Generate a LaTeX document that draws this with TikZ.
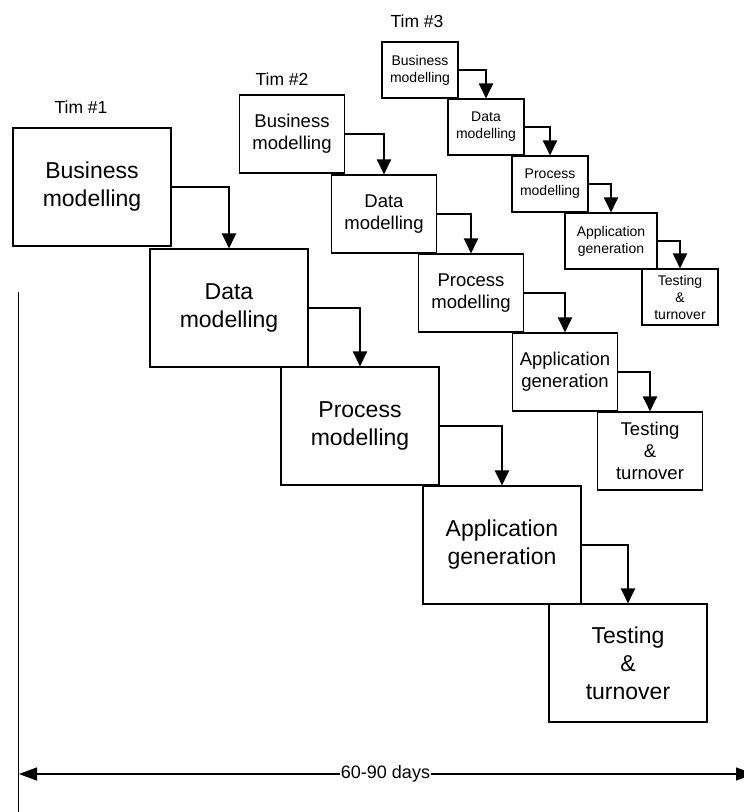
\documentclass[tikz,border=0pt]{standalone}
\usepackage{fontspec}
\setmainfont{Liberation Sans}
\usetikzlibrary{arrows.meta}
\begin{document}
\begin{tikzpicture}[x=1pt,y=-1pt,
  stage/.style={draw=black, line width=1.1pt, align=center, inner sep=0pt},
  big/.style={stage, minimum width=158pt, minimum height=118pt, font=\fontsize{23}{28}\selectfont},
  mid/.style={stage, minimum width=105pt, minimum height=78pt, font=\fontsize{18.5}{22}\selectfont},
  small/.style={stage, minimum width=76pt, minimum height=56pt, font=\fontsize{14}{17}\selectfont},
  flow/.style={line width=2pt, -{Triangle[length=15pt,width=14pt]}},
  team/.style={font=\fontsize{17.5}{21}\selectfont, inner sep=0pt},
  span/.style={line width=1.3pt, -{Triangle[length=18pt,width=13pt]}},
]
\useasboundingbox (0,0) rectangle (744,812);

% Team 1
\node[big] (B1)  at (92,187)  {Business\\modelling};
\node[big] (D1)  at (229,308) {Data\\modelling};
\node[big] (P1)  at (360,426) {Process\\modelling};
\node[big] (A1)  at (502,545) {Application\\generation};
\node[big] (Te1) at (628,663) {Testing\\\&\\turnover};

% Team 2
\node[mid] (B2)  at (292,134) {Business\\modelling};
\node[mid] (D2)  at (384,214) {Data\\modelling};
\node[mid] (P2)  at (471,293) {Process\\modelling};
\node[mid] (A2)  at (565,372) {Application\\generation};
\node[mid] (Te2) at (650,451) {Testing\\\&\\turnover};

% Team 3
\node[small] (B3)  at (420,70)  {Business\\modelling};
\node[small] (D3)  at (486,127) {Data\\modelling};
\node[small] (P3)  at (550,184) {Process\\modelling};
\node[small, minimum width=92pt] (A3) at (611,241) {Application\\generation};
\node[small] (Te3) at (680,297) {Testing\\\&\\turnover};

% team labels
\node[team] (L1) at (81,107) {Tim \#1};
\node[team] (L2) at (282,79) {Tim \#2};
\node[team] (L3) at (417,21) {Tim \#3};

% stage hand-offs
\foreach \k in {1,2,3}{
  \draw[flow] (B\k.east) -| (D\k.north);
  \draw[flow] (D\k.east) -| (P\k.north);
  \draw[flow] (P\k.east) -| (A\k.north);
  \draw[flow] (A\k.east) -| (Te\k.north);
}

% time axis
\coordinate (axtop) at (18.5,292);
\coordinate (axbot) at (18.5,812);
\draw[line width=1.5pt] (axtop) -- (axbot);

\coordinate (dl) at (19,774);
\coordinate (dr) at (754,774);
\node[font=\fontsize{18}{21}\selectfont, inner sep=1pt] (days) at (385.5,774) {60-90 days};
\draw[span] (days.west) -- (dl);
\draw[span] (days.east) -- (dr);
\end{tikzpicture}
\end{document}
